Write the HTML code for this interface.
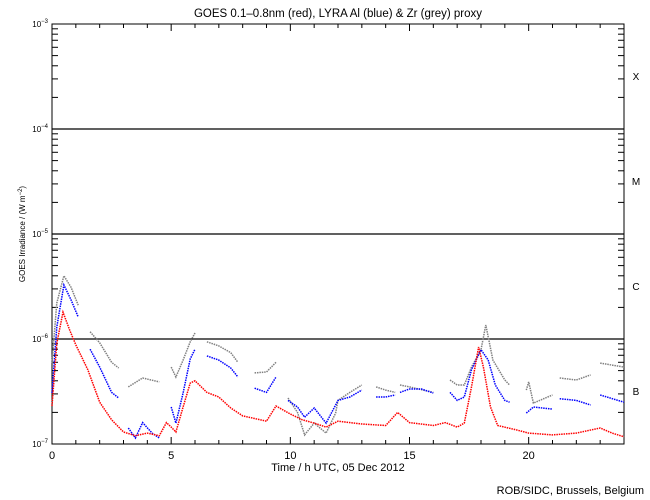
<!DOCTYPE html>
<html><head><meta charset="utf-8"><style>
body{margin:0;background:#fff}
svg{display:block;font-family:"Liberation Sans",sans-serif}
</style></head><body>
<svg id="chart" width="650" height="500" viewBox="0 0 650 500"></svg>
<script>
const tickHours=[0,5,10,15,20];
const tickLabels=["0","5","10","15","20"];
const decadeExps=[-7,-6,-5,-4,-3];
const classLetters=["B","C","M","X"];
const redT=[0,0.2,0.46,0.75,1,1.5,2,2.5,3,3.5,4,4.5,4.8,5,5.2,5.5,5.8,6,6.5,7,7.5,8,8.5,9,9.4,10,10.5,11,11.5,12,13,14,14.5,15,16,16.5,17,17.3,17.6,17.9,18.1,18.4,18.7,19.5,20,21,22,23,23.5,24];
const redV=[2.3e-7,9.1e-7,1.8e-6,1.2e-6,8.8e-7,5.1e-7,2.5e-7,1.7e-7,1.3e-7,1.2e-7,1.27e-7,1.2e-7,1.6e-7,1.45e-7,1.3e-7,2.25e-7,3.8e-7,4.0e-7,3.1e-7,2.8e-7,2.2e-7,1.85e-7,1.75e-7,1.65e-7,2.3e-7,1.93e-7,1.7e-7,1.58e-7,1.45e-7,1.65e-7,1.55e-7,1.5e-7,2.0e-7,1.6e-7,1.5e-7,1.6e-7,1.45e-7,1.58e-7,3.5e-7,8.4e-7,5.4e-7,2.25e-7,1.5e-7,1.36e-7,1.27e-7,1.22e-7,1.27e-7,1.42e-7,1.27e-7,1.17e-7];
const blueT=[0,0.2,0.5,0.8,1.1,null,1.6,2,2.5,2.8,null,3.2,3.5,3.8,4.2,4.5,null,5,5.2,5.5,5.8,6,null,6.5,7,7.5,7.8,null,8.5,9,9.4,null,9.9,10.3,10.6,11,11.5,12,12.5,13,null,13.6,14,14.4,null,14.6,15,15.5,16,null,16.7,17,17.3,17.6,18,18.3,18.6,19,19.2,null,19.9,20.2,21,null,21.3,22,22.6,null,23,24];
const blueV=[3.06e-7,1.3e-6,3.27e-6,2.35e-6,1.62e-6,null,8e-7,5.4e-7,3.1e-7,2.74e-7,null,1.42e-7,1.14e-7,1.6e-7,1.27e-7,1.14e-7,null,2.25e-7,1.58e-7,3.06e-7,6.45e-7,8e-7,null,6.9e-7,6.3e-7,5.3e-7,4.35e-7,null,3.4e-7,3.1e-7,4.35e-7,null,2.6e-7,2.25e-7,1.8e-7,2.2e-7,1.58e-7,2.6e-7,2.8e-7,3.26e-7,null,2.8e-7,2.8e-7,2.93e-7,null,3.1e-7,3.34e-7,3.34e-7,3.06e-7,null,3.1e-7,2.6e-7,2.8e-7,5.1e-7,7.9e-7,6.3e-7,3.65e-7,2.6e-7,2.5e-7,null,1.97e-7,2.25e-7,2.15e-7,null,2.7e-7,2.6e-7,2.35e-7,null,2.93e-7,2.5e-7];
const greyT=[0,0.2,0.5,0.8,1.1,null,1.6,2,2.5,2.8,null,3.2,3.8,4.5,null,5,5.2,5.5,5.8,6,null,6.5,7,7.5,7.8,null,8.5,9,9.4,null,9.9,10.3,10.6,11,11.5,11.9,12,12.5,13,null,13.6,14,14.4,null,14.6,15,16,null,16.7,17,17.3,17.6,18,18.2,18.5,19,19.2,null,19.9,20,20.2,20.8,21,null,21.3,22,22.6,null,23,24];
const greyV=[5.9e-7,2.2e-6,4.0e-6,3.1e-6,2.1e-6,null,1.17e-6,9.2e-7,6e-7,5.3e-7,null,3.5e-7,4.25e-7,3.9e-7,null,5.4e-7,4.35e-7,6.3e-7,9.4e-7,1.14e-6,null,9.4e-7,8.6e-7,7.4e-7,6e-7,null,4.75e-7,4.85e-7,6e-7,null,2.74e-7,2e-7,1.22e-7,1.58e-7,1.27e-7,1.97e-7,2.6e-7,3.1e-7,3.65e-7,null,3.5e-7,3.26e-7,3.1e-7,null,3.65e-7,3.5e-7,3.1e-7,null,4.07e-7,3.65e-7,3.65e-7,5.4e-7,7.9e-7,1.36e-6,6.3e-7,4.07e-7,3.65e-7,null,3.26e-7,3.9e-7,2.45e-7,2.8e-7,2.93e-7,null,4.25e-7,4.07e-7,4.55e-7,null,5.9e-7,5.4e-7];

const L=52,R=624,T=24,B=444;
const xs=h=>L+(R-L)*h/24;
const ys=v=>B-(B-T)*(Math.log10(v)+7)/4;
const svg=document.getElementById('chart');
const NS="http://www.w3.org/2000/svg";
function mk(tag,attrs,parent){const e=document.createElementNS(NS,tag);for(const k in attrs)e.setAttribute(k,attrs[k]);(parent||svg).appendChild(e);return e;}
function txt(x,y,s,size,anchor,parent){const t=mk('text',{x:x,y:y,'font-size':size,'text-anchor':anchor||'middle',fill:'#000'},parent);t.textContent=s;return t;}

const frame=mk('rect',{x:L,y:T,width:R-L,height:B-T,fill:'none',stroke:'#000','stroke-width':1});



const title=txt(338,17,"GOES 0.1\u20130.8nm (red), LYRA Al (blue) & Zr (grey) proxy",11.5);



for(let h=0;h<=24;h++){
  const x=xs(h),len=(h%5===0)?7:4;
  const t1=mk('line',{x1:x,y1:B,x2:x,y2:B-len,stroke:'#000'});
  
  
  const t2=mk('line',{x1:x,y1:T,x2:x,y2:T+len,stroke:'#000'});
  
  
}
tickHours.forEach((h,i)=>{
  const t=txt(xs(h),459,tickLabels[i],11);
  
  
});
const xt=txt(338,471,"Time / h UTC, 05 Dec 2012",11);



decadeExps.forEach((e,i)=>{
  const y=ys(Math.pow(10,e));
  if(i>0&&i<decadeExps.length-1){
    const g=mk('line',{x1:L,y1:y,x2:R,y2:y,stroke:'#000','stroke-width':1.2});
    
    
  }
  const lab=mk('text',{x:L-4,y:y+3,'font-size':8,'text-anchor':'end',fill:'#000'});
  
  
  lab.textContent="10";
  const sup=mk('tspan',{dy:-4,'font-size':6},lab);sup.textContent=String.fromCharCode(8722)+Math.abs(e);
  if(i<decadeExps.length-1){
    for(let m=2;m<=9;m++){
      const yy=ys(m*Math.pow(10,e));
      const a=mk('line',{x1:L,y1:yy,x2:L+6,y2:yy,stroke:'#000'});
      
      
      const b=mk('line',{x1:R,y1:yy,x2:R-6,y2:yy,stroke:'#000'});
      
      
    }
    const c=txt(636,ys(3.2*Math.pow(10,e))+4,classLetters[i],10);
    
    
  }
});
const yt=mk('text',{x:0,y:0,'font-size':8,'text-anchor':'middle',fill:'#000',transform:'translate(25,234) rotate(-90)'});


yt.textContent="GOES Irradiance / (W m";
const ys2=mk('tspan',{dy:-3,'font-size':6},yt);ys2.textContent="\u22122";
const ys3=mk('tspan',{dy:3},yt);ys3.textContent=")";

const credit=txt(644,494,"ROB/SIDC, Brussels, Belgium",11,'end');



function series(T_,V_,color,name){
  let pts=[];const segs=[];
  for(let i=0;i<T_.length;i++){
    if(T_[i]===null){if(pts.length)segs.push(pts);pts=[];continue;}
    pts.push(xs(T_[i]).toFixed(1)+","+ys(V_[i]).toFixed(1));
  }
  if(pts.length)segs.push(pts);
  segs.forEach(p=>{
    const pl=mk('polyline',{points:p.join(' '),fill:'none',stroke:color,'stroke-width':1.5,'stroke-dasharray':'1.5 0.9'});
    
    
  });
}
series(greyT,greyV,'#808080','zr-proxy-series');
series(blueT,blueV,'#0000ff','al-proxy-series');
series(redT,redV,'#ff0000','goes-series');
</script>
</body></html>
